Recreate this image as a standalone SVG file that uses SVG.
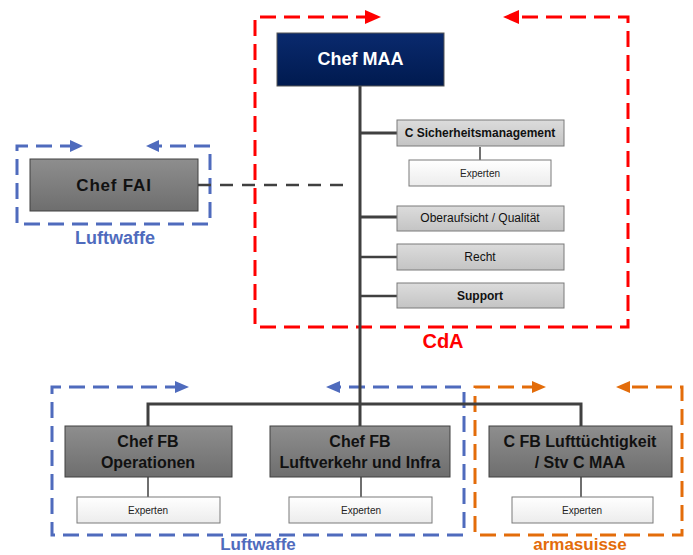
<svg xmlns="http://www.w3.org/2000/svg" width="693" height="555" viewBox="0 0 693 555">
<defs>
<linearGradient id="gNavy" x1="0" y1="0" x2="0" y2="1"><stop offset="0" stop-color="#0a2a6e"/><stop offset="1" stop-color="#001a4f"/></linearGradient>
<linearGradient id="gDark" x1="0" y1="0" x2="0" y2="1"><stop offset="0" stop-color="#8e8e8e"/><stop offset="1" stop-color="#6e6e6e"/></linearGradient>
<linearGradient id="gLight" x1="0" y1="0" x2="0" y2="1"><stop offset="0" stop-color="#dcdcdc"/><stop offset="1" stop-color="#c4c4c4"/></linearGradient>
<linearGradient id="gWhite" x1="0" y1="0" x2="0" y2="1"><stop offset="0" stop-color="#ffffff"/><stop offset="1" stop-color="#ececec"/></linearGradient>
</defs>
<style>
text{font-family:"Liberation Sans",Arial,sans-serif;text-anchor:middle}
.red{fill:none;stroke:#ff0000;stroke-width:3;stroke-dasharray:16 8}
.blue{fill:none;stroke:#4f6bbd;stroke-width:3;stroke-dasharray:16 8}
.org{fill:none;stroke:#e36c0a;stroke-width:3;stroke-dasharray:16 8}
.line{fill:none;stroke:#404040;stroke-width:3}
.thin{fill:none;stroke:#404040;stroke-width:1.5}
.navy{fill:url(#gNavy);stroke:#555;stroke-width:1}
.dark{fill:url(#gDark);stroke:#404040;stroke-width:1}
.light{fill:url(#gLight);stroke:#7a7a7a;stroke-width:1}
.white{fill:url(#gWhite);stroke:#7a7a7a;stroke-width:1}
.big{font-size:16px;font-weight:bold;fill:#111}
.mid{font-size:12px;fill:#111}
.sm{font-size:10px;fill:#222}
</style>

<g id="frames">
<path class="red" d="M372,17 H255 V327 H628 V17 H512"/>
<path d="M365,10 L381,17 L365,24 Z" fill="#ff0000"/>
<path d="M519,10 L503,17 L519,24 Z" fill="#ff0000"/>
<path class="blue" d="M76,146 H17 V224 H210 V146 H152"/>
<path d="M70,140 L83,146 L70,152 Z" fill="#4f6bbd"/>
<path d="M159,140 L146,146 L159,152 Z" fill="#4f6bbd"/>
<path class="blue" d="M181,387 H52 V535 H464 V387 H333"/>
<path d="M175,381 L189,387 L175,393 Z" fill="#4f6bbd"/>
<path d="M340,381 L326,387 L340,393 Z" fill="#4f6bbd"/>
<path class="org" d="M538,387 H475 V535 H682 V387 H623"/>
<path d="M532,381 L546,387 L532,393 Z" fill="#e36c0a"/>
<path d="M630,381 L616,387 L630,393 Z" fill="#e36c0a"/>
<text x="443" y="348" style="font-size:20px;font-weight:bold;fill:#ff0000">CdA</text>
<text x="115" y="244" style="font-size:18px;font-weight:bold;fill:#4f6bbd">Luftwaffe</text>
<text x="258" y="550" style="font-size:17px;font-weight:bold;fill:#4f6bbd">Luftwaffe</text>
<text x="580" y="550" style="font-size:17px;font-weight:bold;fill:#e36c0a">armasuisse</text>
</g>

<g id="connectors">
<path class="line" d="M360,86 V426"/>
<path class="line" d="M360,133 H397 M360,217 H397"/>
<path class="thin" d="M360,257 H397 M360,296 H397" style="stroke-width:2.5"/>
<path class="thin" d="M480,147 V160"/>
<path class="line" d="M148,426 V404 H581 V426"/>
<path class="thin" d="M148,477 V497 M361,477 V497 M581,477 V497"/>
<path d="M198,185 H352" fill="none" stroke="#404040" stroke-width="2.5" stroke-dasharray="13 9"/>
</g>

<g id="chef-maa">
<rect class="navy" x="277" y="33" width="167" height="53"/>
<text x="360.5" y="65" style="font-size:18px;font-weight:bold;fill:#fff">Chef MAA</text>
</g>
<g id="sicherheit">
<rect class="light" x="397" y="120" width="167" height="26"/>
<text x="480" y="137" class="mid" style="font-weight:bold">C Sicherheitsmanagement</text>
</g>
<g id="sicherheit-experten">
<rect class="white" x="409" y="160" width="142" height="26"/>
<text x="480" y="177" class="sm">Experten</text>
</g>
<g id="oberaufsicht">
<rect class="light" x="397" y="206" width="167" height="25"/>
<text x="480" y="222" class="mid">Oberaufsicht / Qualität</text>
</g>
<g id="recht">
<rect class="light" x="397" y="244" width="167" height="26"/>
<text x="480" y="261" class="mid">Recht</text>
</g>
<g id="support">
<rect class="light" x="397" y="283" width="167" height="25"/>
<text x="480" y="300" class="mid" style="font-weight:bold">Support</text>
</g>
<g id="chef-fai">
<rect class="dark" x="30" y="159" width="168" height="52"/>
<text x="114" y="191" class="big" style="font-size:17px;letter-spacing:0.8px">Chef FAI</text>
</g>
<g id="chef-fb-op">
<rect class="dark" x="65" y="426" width="167" height="51"/>
<text x="148" y="447" class="big">Chef FB</text>
<text x="148" y="468" class="big">Operationen</text>
</g>
<g id="op-experten">
<rect class="white" x="77" y="497" width="143" height="26"/>
<text x="148" y="514" class="sm">Experten</text>
</g>
<g id="chef-fb-lv">
<rect class="dark" x="270" y="426" width="180" height="51"/>
<text x="360" y="447" class="big">Chef FB</text>
<text x="360" y="468" class="big">Luftverkehr und Infra</text>
</g>
<g id="lv-experten">
<rect class="white" x="289" y="497" width="143" height="26"/>
<text x="361" y="514" class="sm">Experten</text>
</g>
<g id="c-fb-lt">
<rect class="dark" x="489" y="426" width="183" height="51"/>
<text x="580" y="447" class="big">C FB Lufttüchtigkeit</text>
<text x="580" y="468" class="big">/ Stv C MAA</text>
</g>
<g id="lt-experten">
<rect class="white" x="512" y="497" width="141" height="26"/>
<text x="582" y="514" class="sm">Experten</text>
</g>
</svg>
